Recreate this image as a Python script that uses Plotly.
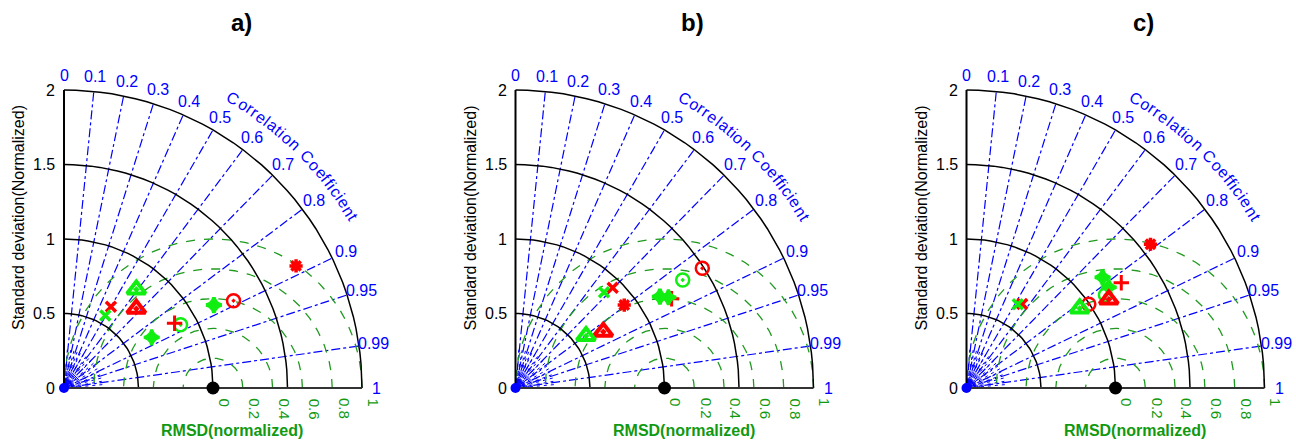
import numpy as np
import plotly.graph_objects as go

# ---------------- data ----------------
panel_titles = ["a)", "b)", "c)"]
cor_ticks = [0, 0.1, 0.2, 0.3, 0.4, 0.5, 0.6, 0.7, 0.8, 0.9, 0.95, 0.99, 1]
cor_lines = [0.1, 0.2, 0.3, 0.4, 0.5, 0.6, 0.7, 0.8, 0.9, 0.95, 0.99]
std_ticks = [0, 0.5, 1, 1.5, 2]
std_tick_labels = ["0", "0.5", "1", "1.5", "2"]
std_arcs = [0.5, 1, 1.5, 2]
rmsd_circles = [0.2, 0.4, 0.6, 0.8, 1.0]
rmsd_ticks = [0, 0.2, 0.4, 0.6, 0.8, 1]
rmsd_tick_labels = ["0", "0.2", "0.4", "0.6", "0.8", "1"]
models = ["asterisk", "circle", "plus", "triangle", "x"]

# normalized standard deviation and correlation, per panel / colour
a_red_std = [1.76, 1.28, 0.86, 0.72, 0.63]
a_red_cor = [0.885, 0.889, 0.863, 0.674, 0.500]
a_green_std = [1.15, 0.89, 0.68, 0.82, 0.56]
a_green_cor = [0.875, 0.879, 0.866, 0.592, 0.495]

b_red_std = [0.918, 1.489, 1.207, 0.700, 0.937]
b_red_cor = [0.795, 0.842, 0.868, 0.842, 0.696]
b_green_std = [1.147, 1.336, 1.193, 0.588, 0.875]
b_green_cor = [0.845, 0.840, 0.860, 0.805, 0.679]

c_red_std = [1.567, 0.995, 1.256, 1.125, 0.677]
c_red_cor = [0.788, 0.825, 0.827, 0.849, 0.552]
c_green_std = [1.177, 1.122, 1.170, 0.929, 0.659]
c_green_cor = [0.776, 0.831, 0.816, 0.818, 0.522]

panel_data = [
    (a_red_std, a_red_cor, a_green_std, a_green_cor),
    (b_red_std, b_red_cor, b_green_std, b_green_cor),
    (c_red_std, c_red_cor, c_green_std, c_green_cor),
]

# ---------------- style ----------------
W, H = 1296, 443
S = 149.0                      # pixels per unit
OY = 388.0                     # pixel row of the origin
origins_px = [64.0, 515.5, 966.5]
domains_px = [(0, 432), (432, 864), (864, 1296)]
FONT = "Liberation Sans, Arial, sans-serif"
BLUE = "#0000ff"
GREEN_LINE = "#1f9a1f"
GREEN_TXT = "#119911"
GREEN_MK = "#11ee11"
RED = "#ff0000"

red_sym = {"asterisk": "asterisk-open", "circle": "circle-open-dot",
           "plus": "cross-thin-open", "triangle": "triangle-up-open-dot",
           "x": "x-thin-open"}
green_sym = {"asterisk": "star-diamond", "circle": "circle-open-dot",
             "plus": "star-diamond", "triangle": "triangle-up-open-dot",
             "x": "x-thin-open"}
sym_size = {"asterisk": 11, "circle": 13, "plus": 11, "triangle": 16, "x": 10}
sym_lw = {"asterisk": 3.5, "circle": 2.5, "plus": 3, "triangle": 4, "x": 3.5}

fig = go.Figure()
annotations = []

char_w = {"C": .722, "o": .556, "r": .333, "e": .556, "l": .222, "a": .556,
          "t": .278, "i": .222, "n": .556, " ": .278, "f": .278, "c": .5}
curve_text = "Correlation Coefficient"

for p in range(3):
    xa = "x" if p == 0 else f"x{p+1}"
    ya = "y" if p == 0 else f"y{p+1}"
    ox = origins_px[p]
    p0, p1 = domains_px[p]
    xr = [(p0 - ox) / S, (p1 - ox) / S]
    yr = [(OY - H) / S, OY / S]
    axkey = "" if p == 0 else str(p + 1)
    fig.update_layout(**{
        f"xaxis{axkey}": dict(domain=[p0 / W, p1 / W], range=xr, visible=False,
                              fixedrange=True, anchor=ya),
        f"yaxis{axkey}": dict(domain=[0, 1], range=yr, visible=False,
                              fixedrange=True, anchor=xa),
    })

    def add_line(x, y, **kw):
        fig.add_trace(go.Scatter(x=x, y=y, mode="lines", xaxis=xa, yaxis=ya,
                                 hoverinfo="skip", showlegend=False, **kw))

    # near-origin fine spokes
    sx, sy = [], []
    for ang in np.arange(5, 90, 5):
        t = np.deg2rad(ang)
        sx += [0.05 * np.cos(t), 0.26 * np.cos(t), None]
        sy += [0.05 * np.sin(t), 0.26 * np.sin(t), None]
    add_line(sx, sy, line=dict(color=BLUE, width=1, dash="3px,4px"))
    th = np.linspace(0, np.pi / 2, 40)
    for rr in [0.055, 0.075]:
        add_line(rr * np.cos(th), rr * np.sin(th),
                 line=dict(color=BLUE, width=1, dash="dot"))

    # correlation lines
    for c in cor_lines:
        t = np.arccos(c)
        add_line([0, 2 * np.cos(t)], [0, 2 * np.sin(t)],
                 line=dict(color=BLUE, width=1.2, dash="dashdot"))

    # RMSD circles (centered on reference point)
    for r in rmsd_circles:
        tt = np.linspace(0, np.pi, 200)
        cx = 1 + r * np.cos(tt)
        cy = r * np.sin(tt)
        m = (cx >= 0) & (np.hypot(cx, cy) <= 2.0)
        cx = np.where(m, cx, np.nan)
        cy = np.where(m, cy, np.nan)
        add_line(cx, cy, line=dict(color=GREEN_LINE, width=1.3, dash="dash"),
                 connectgaps=False)

    # std arcs
    for s in std_arcs:
        add_line(s * np.cos(th), s * np.sin(th),
                 line=dict(color="black", width=1.5))
    # axes
    add_line([0, 2], [0, 0], line=dict(color="#333333", width=2))
    add_line([0, 0], [0, 2], line=dict(color="black", width=2))

    # origin blob & reference point
    fig.add_trace(go.Scatter(x=[0], y=[0], mode="markers", xaxis=xa, yaxis=ya,
                             marker=dict(color=BLUE, size=10), cliponaxis=True,
                             hoverinfo="skip", showlegend=False))
    fig.add_trace(go.Scatter(x=[1], y=[0], mode="markers", xaxis=xa, yaxis=ya,
                             marker=dict(color="black", size=13),
                             cliponaxis=False, hoverinfo="skip", showlegend=False))

    # model points
    rs, rc, gs, gc = panel_data[p]
    for i, mname in enumerate(models):
        for std_v, cor_v, col, smap in [(rs[i], rc[i], RED, red_sym),
                                        (gs[i], gc[i], GREEN_MK, green_sym)]:
            t = np.arccos(cor_v)
            fig.add_trace(go.Scatter(
                x=[std_v * np.cos(t)], y=[std_v * np.sin(t)], mode="markers",
                xaxis=xa, yaxis=ya, hoverinfo="skip", showlegend=False,
                cliponaxis=False,
                marker=dict(symbol=smap[mname], color=col,
                            size=sym_size[mname],
                            line=dict(color=col, width=sym_lw[mname]))))

    # ---- texts ----
    def ann(x, y, text, **kw):
        d = dict(x=x, y=y, xref=xa, yref=ya, text=text, showarrow=False)
        d.update(kw)
        annotations.append(d)

    ann(1.19, 2.455, f"<b>{panel_titles[p]}</b>",
        font=dict(family=FONT, size=24, color="black"))
    for v, lab in zip(std_ticks, std_tick_labels):
        ann(-0.045, v, lab, xanchor="right",
            font=dict(family=FONT, size=16, color="black"))
    ann(-46 / S, (OY - 218) / S, "Standard deviation(Normalized)", textangle=-90,
        font=dict(family=FONT, size=16, color="black"))
    for c in cor_ticks:
        t = np.arccos(c)
        ann(2.1 * np.cos(t), 2.1 * np.sin(t), f"{c:g}",
            font=dict(family=FONT, size=16, color=BLUE))
    for r, lab in zip(rmsd_ticks, rmsd_tick_labels):
        ann(1.078 + r, -0.055, lab, textangle=90, yanchor="top",
            font=dict(family=FONT, size=15, color=GREEN_TXT))
    ann(1.13, (OY - 430) / S, "<b>RMSD(normalized)</b>",
        font=dict(family=FONT, size=16, color=GREEN_TXT))

    # curved "Correlation Coefficient"
    widths = np.array([char_w.get(ch, .5) for ch in curve_text])
    centers = np.cumsum(widths) - widths / 2
    frac = (centers - centers[0]) / (centers[-1] - centers[0])
    a0, a1 = 59.7, 30.5
    for ch, f in zip(curve_text, frac):
        if ch == " ":
            continue
        phi = a0 + (a1 - a0) * f
        tp = np.deg2rad(phi)
        ann(2.25 * np.cos(tp), 2.25 * np.sin(tp), ch, textangle=90 - phi,
            font=dict(family=FONT, size=16, color=BLUE))

fig.update_layout(width=W, height=H, margin=dict(l=0, r=0, t=0, b=0),
                  plot_bgcolor="white", paper_bgcolor="white",
                  showlegend=False, annotations=annotations)
fig.write_html("out.html", config={"displayModeBar": False},
               post_script="document.body.style.margin='0';"
                           "document.body.style.overflow='hidden';")
